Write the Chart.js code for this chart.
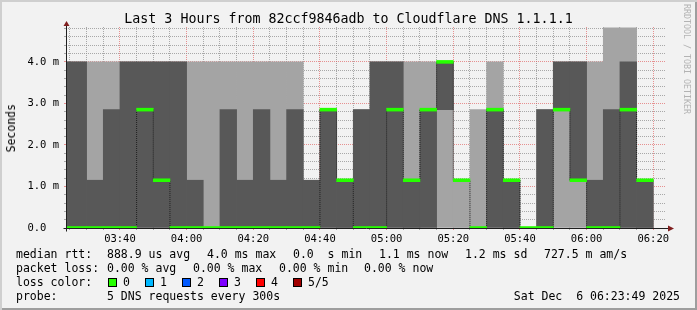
<!DOCTYPE html>
<html>
<head>
<meta charset="utf-8">
<script src="https://cdn.jsdelivr.net/npm/chart.js@4.4.1/dist/chart.umd.min.js"></script>
<style>
html, body { margin: 0; padding: 0; background: #f2f2f2; }
#wrap { position: relative; width: 697px; height: 310px; background: #f2f2f2; overflow: hidden;
        box-shadow: inset 2px 2px 0 #cfcfcf, inset -2px -2px 0 #9e9e9e; }
#wrap canvas { position: absolute; left: 0; top: 0; }
.t { position: absolute; font-family: "DejaVu Sans Mono", monospace; font-size: 11.5px; line-height: 14px; color: #000; white-space: pre; }
#title { left: 0; width: 697px; top: 11px; text-align: center; font-size: 13.3px; line-height: 16px; }
#ylab { left: 4px; top: 104px; writing-mode: vertical-rl; transform: rotate(180deg); }
#mark { left: 682px; top: 4px; writing-mode: vertical-rl; font-size: 8.3px; line-height: 10px; color: #b3b3b3; }
.box { position: absolute; width: 7px; height: 7px; border: 1px solid #000; top: 278px; }
</style>
</head>
<body>
<div id="wrap">
  <canvas id="c" width="697" height="310"></canvas>
  <div class="t" id="title">Last 3 Hours from 82ccf9846adb to Cloudflare DNS 1.1.1.1</div>
  <div class="t" id="ylab">Seconds</div>
  <div class="t" id="mark">RRDTOOL / TOBI OETIKER</div>

  <div class="t" style="left:16px;top:247px">median rtt:</div>
  <div class="t" style="left:107px;top:247px">888.9 us avg</div>
  <div class="t" style="left:207px;top:247px">4.0 ms max</div>
  <div class="t" style="left:293px;top:247px">0.0  s min</div>
  <div class="t" style="left:379px;top:247px">1.1 ms now</div>
  <div class="t" style="left:465px;top:247px">1.2 ms sd</div>
  <div class="t" style="left:544px;top:247px">727.5 m am/s</div>

  <div class="t" style="left:16px;top:261px">packet loss:</div>
  <div class="t" style="left:107px;top:261px">0.00 % avg</div>
  <div class="t" style="left:193px;top:261px">0.00 % max</div>
  <div class="t" style="left:279px;top:261px">0.00 % min</div>
  <div class="t" style="left:364px;top:261px">0.00 % now</div>

  <div class="t" style="left:16px;top:275px">loss color:</div>
  <div id="losskey"></div>

  <div class="t" style="left:16px;top:289px">probe:</div>
  <div class="t" style="left:107px;top:289px">5 DNS requests every 300s</div>
  <div class="t" style="right:17px;top:289px">Sat Dec  6 06:23:49 2025</div>
</div>
<script>
// 5 minute steps, start time of each step
const times = ['03:20','03:25','03:30','03:35','03:40','03:45','03:50','03:55',
               '04:00','04:05','04:10','04:15','04:20','04:25','04:30','04:35','04:40','04:45','04:50','04:55',
               '05:00','05:05','05:10','05:15','05:20','05:25','05:30','05:35','05:40','05:45','05:50','05:55',
               '06:00','06:05','06:10','06:15'];
// sorted pings per step (ms)
const ping1  = [0,0,0,0,0,0,0,0, 0,0,0,0,0,0,0,0,0,0,0,0, 0,0,0,0,0,0,0,0,0,0,0,0, 0,0,0,0];
const ping2  = [0,0,0,0,0,0,0,0, 0,0,0,0,0,0,0,0,0,0,0,0, 0,0,0,2.85,1.15,0,0,0,0,0,2.85,1.15, 0,0,0,0];
const median = [0,0,0,0,0,2.85,1.15,0, 0,0,0,0,0,0,0,0,2.85,1.15,0,0, 2.85,1.15,2.85,4,1.15,0,2.85,1.15,0,0,2.85,1.15, 0,0,2.85,1.15];
const ping4  = [4,4,1.15,2.85,4,4,4,4, 1.15,0,2.85,1.15,2.85,1.15,2.85,1.15,2.85,1.15,2.85,4, 4,1.15,2.85,4,1.15,0,2.85,1.15,0,2.85,4,4, 1.15,2.85,4,1.15];
const ping5  = [4,4,4,4,4,4,4,4, 4,4,4,4,4,4,4,1.15,2.85,1.15,2.85,4, 4,4,4,4,1.15,2.85,4,1.15,0,2.85,4,4, 4,4.82,4.82,1.15];

const xStart = '03:23:49', xEnd = '06:23:49';
const yTop = 4.84;
const STEP = 5;

const lossLabels = ['0', '1', '2', '3', '4', '5/5'];
const lossColors = ['#26ff00', '#00b8ff', '#0059ff', '#7e00ff', '#ff0000', '#a10000'];

const toMin = s => { const p = s.split(':').map(Number); return p[0] * 60 + p[1] + (p[2] || 0) / 60; };
const pad = n => String(n).padStart(2, '0');
const fmt = v => pad(Math.floor(v / 60)) + ':' + pad(Math.round(v % 60));

const MINOR = 'rgba(143,143,143,0.75)', MAJOR = 'rgba(222,79,79,0.6)';
const FONT = { family: 'DejaVu Sans Mono', size: 10.5 };

const band = (lo, hi) => times
  .map((t, i) => lo[i] === hi[i] ? null : { x: toMin(t) + STEP / 2, y: [lo[i], hi[i]] })
  .filter(Boolean);

const barOpts = { type: 'bar', borderWidth: 0, barPercentage: 1, categoryPercentage: 1, grouped: false };

const axesPlugin = {
  id: 'rrdAxes',
  afterDraw(chart) {
    const { ctx, chartArea: a } = chart;
    const yb = Math.round(a.bottom) + 0.5, xl = Math.round(a.left) + 0.5;
    ctx.save();
    ctx.strokeStyle = '#1f1f1f';
    ctx.lineWidth = 1;
    ctx.beginPath();
    ctx.moveTo(xl - 3, yb); ctx.lineTo(a.right + 3, yb);
    ctx.moveTo(xl, yb + 3); ctx.lineTo(xl, a.top - 1);
    ctx.stroke();
    ctx.fillStyle = '#801f1f';
    ctx.beginPath();
    ctx.moveTo(a.right + 2, yb - 3); ctx.lineTo(a.right + 8, yb); ctx.lineTo(a.right + 2, yb + 3);
    ctx.closePath(); ctx.fill();
    ctx.beginPath();
    ctx.moveTo(xl - 3, a.top - 1); ctx.lineTo(xl, a.top - 6); ctx.lineTo(xl + 3, a.top - 1);
    ctx.closePath(); ctx.fill();
    ctx.restore();
  }
};

new Chart(document.getElementById('c'), {
  type: 'bar',
  data: {
    datasets: [
      { ...barOpts, label: 'median', order: 0, backgroundColor: lossColors[0],
        data: times.map((t, i) => ({ x: toMin(t) + STEP / 2, y: [median[i] - 0.035, median[i] + 0.035] })) },
      { type: 'line', label: 'median step', order: 1, borderColor: '#202020', borderWidth: 1, borderDash: [1, 1],
        pointRadius: 0, fill: false, stepped: 'middle',
        data: times.map((t, i) => ({ x: toMin(t) + STEP / 2, y: median[i] })) },
      { ...barOpts, label: 'smoke 2', order: 2, backgroundColor: '#585858', data: band(ping2, ping4) },
      { ...barOpts, label: 'smoke 1', order: 3, backgroundColor: '#a4a4a4', data: band(ping1, ping5) }
    ]
  },
  options: {
    responsive: false,
    animation: false,
    devicePixelRatio: 1,
    layout: { padding: { left: 0, top: 27, right: 31, bottom: 0 } },
    plugins: { legend: { display: false }, tooltip: { enabled: false } },
    scales: {
      x: {
        type: 'linear', min: toMin(xStart), max: toMin(xEnd), z: 1, offset: false,
        afterBuildTicks: s => {
          const t = [];
          for (let v = Math.ceil(s.min / STEP) * STEP; v <= s.max; v += STEP) t.push({ value: v });
          s.ticks = t;
        },
        afterFit: s => { s.height = 82; },
        grid: { offset: false, color: c => (c.tick && c.tick.value % 20 === 0) ? MAJOR : MINOR, lineWidth: 1, tickLength: 2 },
        border: { display: false, dash: [1, 1] },
        ticks: { autoSkip: false, maxRotation: 0, padding: 3, color: '#000', font: FONT,
                 callback: v => v % 20 === 0 ? fmt(v) : '' }
      },
      y: {
        min: 0, max: yTop, z: 1,
        afterBuildTicks: s => {
          const t = [];
          for (let k = 0; k * 0.2 <= s.max; k++) t.push({ value: +(k * 0.2).toFixed(1) });
          s.ticks = t;
        },
        afterFit: s => { s.width = 66; },
        grid: { color: c => c.tick && c.tick.value === 0 ? 'rgba(0,0,0,0)' : (c.tick && Number.isInteger(c.tick.value) ? MAJOR : MINOR),
                lineWidth: 1, tickLength: 2 },
        border: { display: false, dash: [1, 1] },
        ticks: { autoSkip: false, padding: 5, color: '#000', font: FONT,
                 callback: v => !Number.isInteger(v) ? '' : (v === 0 ? '0.0  ' : v.toFixed(1) + ' m') }
      }
    }
  },
  plugins: [axesPlugin]
});

// loss colour key
const key = document.getElementById('losskey');
lossLabels.forEach((lab, i) => {
  const b = document.createElement('div');
  b.className = 'box';
  b.style.left = (108 + i * 37) + 'px';
  b.style.background = lossColors[i];
  key.appendChild(b);
  const t = document.createElement('div');
  t.className = 't';
  t.style.left = (123 + i * 37) + 'px';
  t.style.top = '275px';
  t.textContent = lab;
  key.appendChild(t);
});
</script>
</body>
</html>
